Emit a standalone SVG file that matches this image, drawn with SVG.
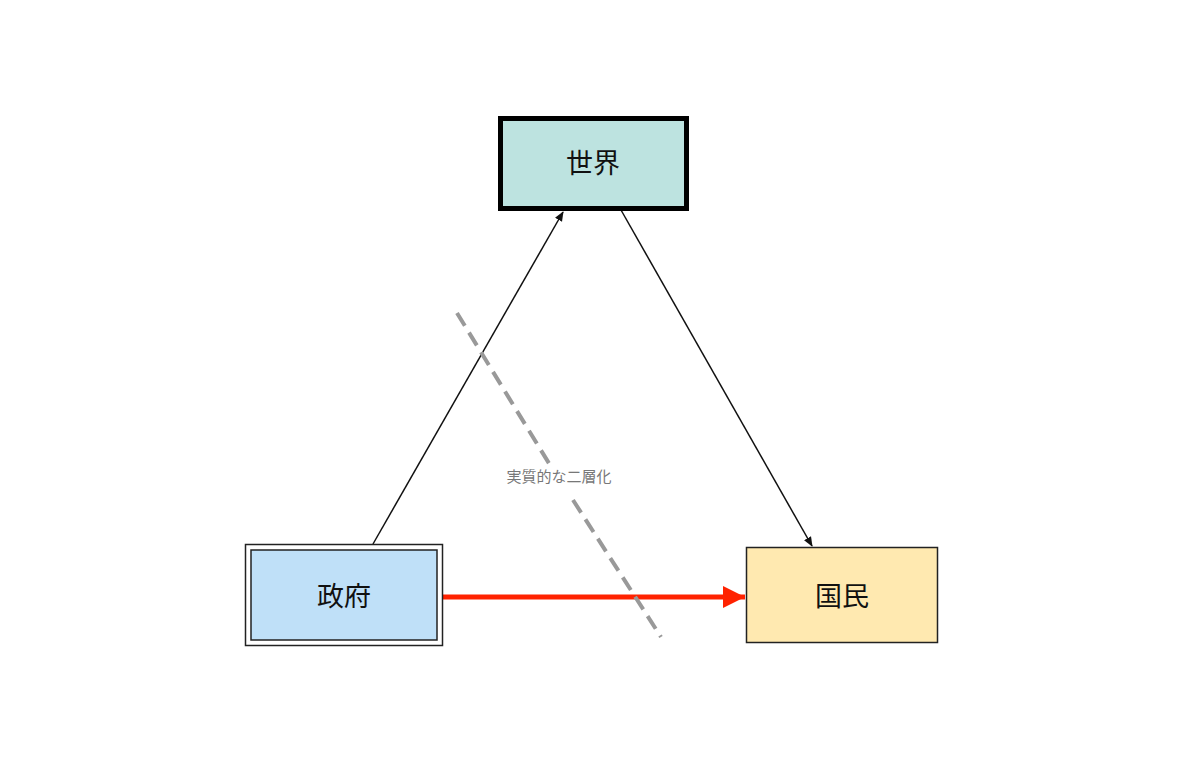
<svg xmlns="http://www.w3.org/2000/svg" width="1188" height="759" viewBox="0 0 1188 759">
<style>
.t{font-family:"Liberation Sans","Noto Sans CJK JP",sans-serif;text-anchor:middle;dominant-baseline:central}
.n{font-size:27px;fill:#111}
.e{stroke:#111;stroke-width:1.5;fill:none}
</style>
<defs>
<marker id="ab" viewBox="0 0 10 10" refX="9" refY="5" markerWidth="10" markerHeight="10" markerUnits="userSpaceOnUse" orient="auto"><path d="M0,1 L10,5 L0,9 z" fill="#111"/></marker>
<marker id="ar" viewBox="0 0 10 10" refX="10" refY="5" markerWidth="28" markerHeight="22" markerUnits="userSpaceOnUse" orient="auto"><path d="M0,0 L10,5 L0,10 z" fill="#ff2200"/></marker>
</defs>
<rect width="1188" height="759" fill="#fff"/>
<g id="connectors">
<line class="e" x1="373" y1="544" x2="563" y2="212" marker-end="url(#ab)"/>
<line class="e" x1="621" y1="210" x2="812" y2="546" marker-end="url(#ab)"/>
<line x1="443" y1="597" x2="745" y2="597" stroke="#ff2200" stroke-width="5" marker-end="url(#ar)"/>
<g stroke="#999" stroke-width="4" stroke-dasharray="15,8" fill="none">
<line x1="457" y1="313" x2="550" y2="465"/>
<line x1="573" y1="500" x2="661" y2="637"/>
</g>
<text class="t" x="559" y="476" font-size="15" fill="#777">実質的な二層化</text>
</g>
<g id="world">
<rect x="500.5" y="118.5" width="186" height="90" fill="#bde3e0" stroke="#000" stroke-width="5"/>
<text class="t n" x="593" y="164">世界</text>
</g>
<g id="government">
<rect x="245.5" y="544.5" width="197" height="101" fill="#fff" stroke="#222" stroke-width="1.5"/>
<rect x="251" y="550" width="186" height="90" fill="#bfe0f8" stroke="#222" stroke-width="1.5"/>
<text class="t n" x="344" y="597">政府</text>
</g>
<g id="nation">
<rect x="746.5" y="547.5" width="191" height="95" fill="#ffe9b0" stroke="#222" stroke-width="1.5"/>
<text class="t n" x="842" y="597">国民</text>
</g>
</svg>
